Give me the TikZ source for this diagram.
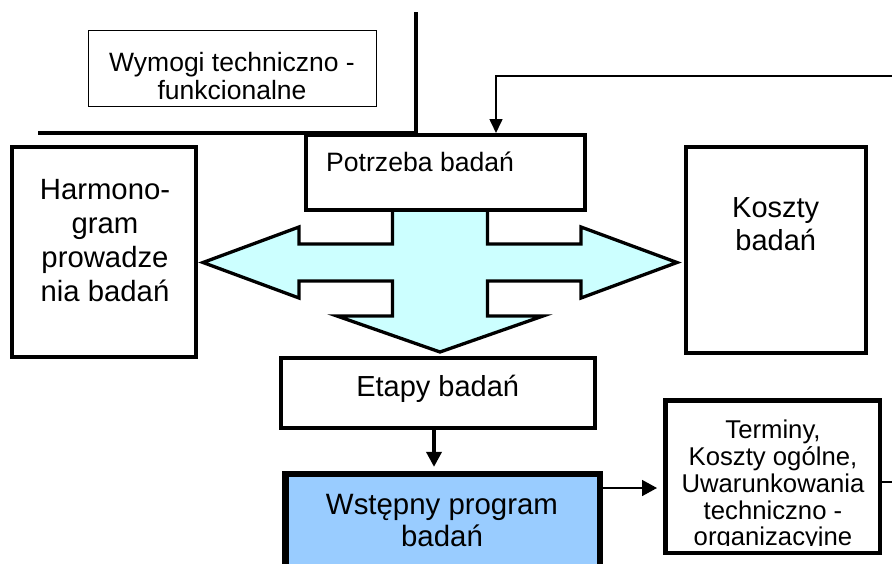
\documentclass[tikz,border=0pt]{standalone}
\usepackage{fontspec}
\setmainfont{Liberation Sans}
\usepackage{tikz}
\usetikzlibrary{arrows.meta, positioning, calc}
\definecolor{armcyan}{HTML}{CCFFFF}
\definecolor{paleblue}{HTML}{99CCFF}

\begin{document}
\begin{tikzpicture}[
    x=1pt, y=-1pt,
    box/.style={rectangle, draw, line width=4pt, fill=white, inner sep=0pt},
    txt/.style={inner sep=0pt, align=center},
    bigtxt/.style={txt, font=\fontsize{29.3}{34}\selectfont},
    midtxt/.style={txt, font=\fontsize{26.5}{28.3}\selectfont},
    arr/.style={-{Triangle[length=14pt, width=13pt]}, line width=1.6pt}
]
\useasboundingbox (0,0) rectangle (892,563);

% Cross-shaped arrow
\draw[fill=armcyan, line width=3.3pt, line join=miter]
  (392.5,205) -- (392.5,244) -- (299,244) -- (299,227) -- (203,262.5) -- (299,298)
  -- (299,281) -- (392.5,281) -- (392.5,316) -- (337,316) -- (440,352) -- (543,316)
  -- (487.5,316) -- (487.5,281) -- (581,281) -- (581,298) -- (677,262.5) -- (581,227)
  -- (581,244) -- (487.5,244) -- (487.5,205);

\node[box, line width=1.3pt, minimum width=287.8pt, minimum height=75.8pt] (wymogi) at (232.5,68.5) {};
\node[box, minimum width=279pt, minimum height=75pt] (potrzeba) at (445.5,172.5) {};
\node[box, minimum width=184pt, minimum height=210pt] (harmonogram) at (104,252) {};
\node[box, minimum width=180pt, minimum height=206pt] (koszty) at (776,250) {};
\node[box, minimum width=314pt, minimum height=70pt] (etapy) at (438,393) {};
\node[box, line width=6.5pt, fill=paleblue, minimum width=314.5pt, minimum height=145.75pt] (wstepny) at (442.5,547) {};
\node[box, line width=4.5pt, minimum width=214.5pt, minimum height=152.5pt] (terminy) at (772.5,476.5) {};

% Texts
\node[midtxt] (wymogiT) at (232,76.2) {Wymogi techniczno -\\funkcionalne};
\node[txt, anchor=west, font=\fontsize{26.6}{30}\selectfont] (potrzebaT) at (326,161.6) {Potrzeba badań};
\node[bigtxt] (harmonogramT) at (105,241) {Harmono-\\gram\\prowadze\\nia badań};
\node[txt, font=\fontsize{29}{33}\selectfont] (kosztyT) at (775.7,224.5) {Koszty\\badań};
\node[txt, font=\fontsize{29}{33}\selectfont] (etapyT) at (437.7,388.5) {Etapy badań};
\node[txt, font=\fontsize{29.4}{32}\selectfont] (wstepnyT) at (442,521) {Wstępny program\\badań};
\begin{scope}
  \clip (667,402) rectangle (878,545.5);
  \node[txt, font=\fontsize{25.7}{26.75}\selectfont] (terminyT) at (773,485.8) {Terminy,\\Koszty ogólne,\\Uwarunkowania\\techniczno -\\organizacyjne};
\end{scope}

% Lines and arrows
\coordinate (sepL) at (38,133);
\coordinate (sepT) at (416.3,12);
\draw[line width=4pt] (sepL) -| (sepT);

\coordinate (topin) at (892,76);
\draw[arr] (topin) -| ([xshift=50.5pt]potrzeba.north);

\draw[-{Triangle[length=15pt, width=15pt]}, line width=3.5pt, shorten >=4pt]
  ([xshift=-4pt]etapy.south) -- ([xshift=-8.5pt]wstepny.north |- etapy.south) -- ([xshift=-8.5pt]wstepny.north);

\coordinate (tin) at ([yshift=-11.5pt]terminy.west);
\draw[-{Triangle[length=15pt, width=16pt]}, line width=1.6pt, shorten >=6pt] (wstepny.east |- tin) -- (tin);

\coordinate (rout) at (892,482);
\draw[line width=1.6pt] (terminy.east |- rout) -- (rout);

\end{tikzpicture}
\end{document}
